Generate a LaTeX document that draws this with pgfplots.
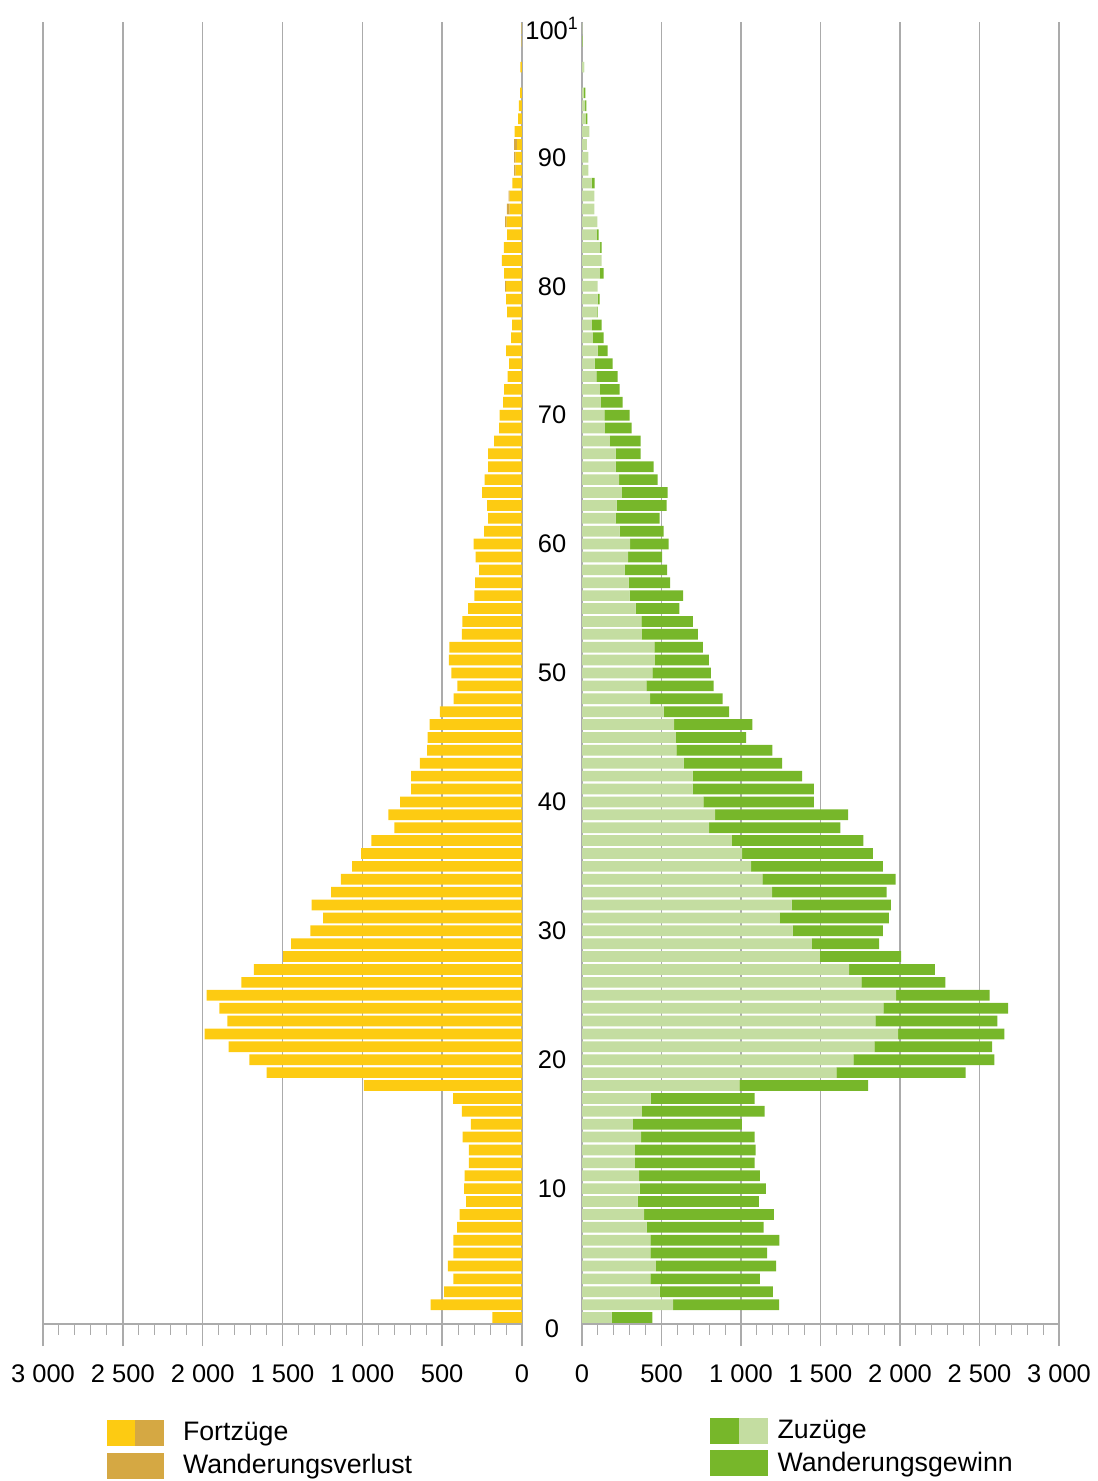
\documentclass[border=0pt]{standalone}
\usepackage{pgfplots}
\pgfplotsset{compat=1.18}
\usepackage{pgfplotstable}
\usepackage{fontspec}
\setmainfont{Liberation Sans}

\definecolor{fortz}{HTML}{FDCB12}
\definecolor{verlust}{HTML}{D5A843}
\definecolor{zuzhell}{HTML}{C4DDA1}
\definecolor{gewinn}{HTML}{77B72A}
\definecolor{gridc}{HTML}{ABABAB}
\newcommand\lbl{\fontsize{14.5}{17}\selectfont}
\newcommand\leg{\fontsize{15.2}{18}\selectfont}

% age, common part (min of Fortzuege/Zuzuege), Wanderungsverlust, Wanderungsgewinn
\pgfplotstableread{
age m l g
0 186 0 256
1 573 0 667
2 488 0 712
3 430 0 689
4 464 0 757
5 430 0 734
6 430 0 811
7 407 0 735
8 390 0 816
9 350 0 762
10 363 0 793
11 360 0 759
12 333 0 752
13 333 0 759
14 372 0 713
15 320 0 685
16 376 0 772
17 431 0 655
18 990 0 809
19 1600 0 812
20 1707 0 886
21 1838 0 742
22 1988 0 668
23 1845 0 768
24 1895 0 785
25 1975 0 588
26 1757 0 529
27 1680 0 539
28 1496 0 511
29 1446 0 423
30 1325 0 568
31 1245 0 685
32 1318 0 625
33 1195 0 721
34 1134 0 839
35 1064 0 829
36 1007 0 822
37 943 0 826
38 799 0 826
39 837 0 837
40 763 0 696
41 695 0 764
42 695 0 689
43 639 0 619
44 594 0 603
45 591 0 441
46 579 0 492
47 514 0 412
48 428 0 456
49 405 0 422
50 442 0 368
51 458 0 340
52 455 0 305
53 377 0 352
54 374 0 324
55 337 0 275
56 299 0 337
57 293 0 261
58 268 0 267
59 290 0 214
60 303 0 242
61 237 0 277
62 212 0 276
63 218 0 314
64 250 0 289
65 234 0 242
66 212 0 239
67 212 0 157
68 175 0 194
69 144 0 168
70 140 0 160
71 118 0 138
72 112 0 125
73 90 0 134
74 80 0 113
75 99 0 62
76 68 0 68
77 62 0 62
78 93 0 5
79 99 0 12
80 99 6 0
81 112 0 24
82 124 2 0
83 114 0 9
84 93 0 12
85 96 10 0
86 78 16 0
87 78 5 0
88 60 0 20
89 40 10 0
90 40 10 0
91 30 20 0
92 46 0 0
93 25 0 8
94 19 0 8
95 12 0 9
96 0 0 0
97 10 0 3
98 0 0 0
99 3 0 3
100 3 0 0
}\mig

\pgfplotsset{pyr/.style={
  scale only axis, anchor=south west,
  height=26.04cm,
  xmin=0, xmax=3000, ymin=-0.5, ymax=100.5,
  xbar stacked, bar width=0.83,
  axis x line*=bottom, axis y line=none,
  x axis line style={draw=gridc, line width=0.8pt, -},
  xtick={0,500,...,3000}, minor x tick num=4,
  tick align=outside,
  major tick length=0.44cm, minor tick length=0.22cm,
  tick style={draw=gridc, line width=0.8pt},
  minor tick style={line width=0.6pt},
  xmajorgrids, grid style={draw=gridc, line width=0.8pt},
  ytick=\empty,
  xticklabel style={font=\lbl, yshift=-0.24cm},
  xticklabels={0,500,1~000,1~500,2~000,2~500,3~000},
  clip=false,
  legend cell align=left,
  legend style={draw=none, fill=none, font=\leg, anchor=north west,
    row sep=0.14cm, nodes={inner xsep=0.19cm, inner ysep=0pt}},
}}

\begin{document}
\begin{tikzpicture}
\useasboundingbox (0,0) rectangle (21.94cm,29.62cm);

\begin{axis}[pyr, at={(0.86cm,3.14cm)}, width=9.58cm, x dir=reverse,
  legend style={at={(0.1215,-0.0707)}}]
\addplot[fill=fortz, draw=none, forget plot] table[x=m, y=age] {\mig};
\addplot[fill=verlust, draw=none, forget plot] table[x=l, y=age] {\mig};
\addlegendimage{legend image code/.code={
  \fill[fortz] (0cm,-0.25cm) rectangle (0.56cm,0.25cm);
  \fill[verlust] (0.56cm,-0.25cm) rectangle (1.12cm,0.25cm);
  \path (1.32cm,0cm);}}
\addlegendentry{Fortzüge}
\addlegendimage{legend image code/.code={
  \fill[verlust] (0cm,-0.25cm) rectangle (1.12cm,0.25cm);
  \path (1.32cm,0cm);}}
\addlegendentry{Wanderungsverlust}
\end{axis}

\begin{axis}[pyr, at={(11.64cm,3.14cm)}, width=9.54cm,
  legend style={at={(0.2575,-0.069)}}]
\addplot[fill=zuzhell, draw=none, forget plot] table[x=m, y=age] {\mig};
\addplot[fill=gewinn, draw=none, forget plot] table[x=g, y=age] {\mig};
\addlegendimage{legend image code/.code={
  \fill[gewinn] (0cm,-0.25cm) rectangle (0.58cm,0.25cm);
  \fill[zuzhell] (0.58cm,-0.25cm) rectangle (1.14cm,0.25cm);}}
\addlegendentry{Zuzüge}
\addlegendimage{legend image code/.code={
  \fill[gewinn] (0cm,-0.25cm) rectangle (1.14cm,0.25cm);}}
\addlegendentry{Wanderungsgewinn}
\pgfplotsinvokeforeach{10,20,30,40,50,60,70,80,90}{
  \node[font=\lbl] at ([xshift=-0.6cm]axis cs:0,#1) {#1};
}
\node[font=\lbl] at ([xshift=-0.6cm]axis cs:0,-0.89) {0};
\node[font=\lbl] at ([xshift=-0.6cm]axis cs:0,100) {100\textsuperscript{1}};
\end{axis}
\end{tikzpicture}
\end{document}
